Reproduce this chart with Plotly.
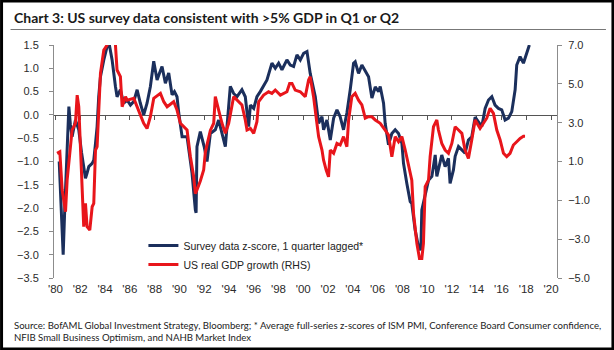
import plotly.graph_objects as go

# ---------------- data ----------------
survey_years = [1980.30, 1980.45, 1980.62, 1980.75, 1980.90, 1981.08, 1981.20, 1981.34, 1981.61, 1981.88,
                1982.10, 1982.28, 1982.42, 1982.55, 1982.69, 1982.96, 1983.09, 1983.23, 1983.36, 1983.49,
                1983.63, 1983.90, 1984.17, 1984.35, 1984.57, 1984.84, 1984.97, 1985.24, 1985.51, 1985.78,
                1986.05, 1986.32, 1986.59, 1986.85, 1987.12, 1987.39, 1987.66, 1987.93, 1988.20, 1988.40,
                1988.60, 1988.87, 1989.14, 1989.41, 1989.60, 1989.81, 1989.95, 1990.22, 1990.62, 1990.80,
                1991.02, 1991.29, 1991.35, 1991.42, 1991.69, 1992.00, 1992.23, 1992.50, 1992.90, 1993.17,
                1993.71, 1994.11, 1994.38, 1994.65, 1995.05, 1995.32, 1995.59, 1995.73, 1996.00, 1996.26,
                1996.53, 1997.07, 1997.47, 1997.74, 1998.01, 1998.28, 1998.68, 1998.95, 1999.22, 1999.49,
                1999.76, 2000.03, 2000.30, 2000.56, 2000.97, 2001.24, 2001.51, 2001.64, 2001.91, 2002.18,
                2002.45, 2002.72, 2002.98, 2003.25, 2003.52, 2003.79, 2004.06, 2004.19, 2004.46, 2004.73,
                2005.00, 2005.27, 2005.54, 2005.81, 2006.08, 2006.21, 2006.48, 2006.61, 2006.88, 2007.15,
                2007.42, 2007.69, 2007.96, 2008.09, 2008.36, 2008.63, 2008.76, 2009.03, 2009.30, 2009.49,
                2009.57, 2009.84, 2010.11, 2010.38, 2010.65, 2010.78, 2011.05, 2011.18, 2011.45, 2011.72,
                2011.85, 2012.12, 2012.26, 2012.53, 2012.80, 2013.06, 2013.33, 2013.60, 2013.87, 2014.14,
                2014.41, 2014.68, 2014.95, 2015.22, 2015.48, 2015.75, 2016.02, 2016.29, 2016.56, 2016.83,
                2017.10, 2017.23, 2017.50, 2017.77, 2017.90, 2018.04, 2018.25]
survey_z = [-1.00, -2.00, -3.00, -2.00, -0.80, 0.18, -0.20, -0.47, -0.11, -0.32,
            -0.80, -1.18, -1.36, -1.25, -1.11, -1.04, -0.97, -0.61, -0.25, 0.39,
            0.82, 1.18, 1.47, 1.50, 1.18, 0.61, 0.39, 0.54, 0.25, 0.32,
            0.21, 0.29, 0.54, 0.25, 0.00, 0.25, 0.61, 1.15, 0.75, 0.90,
            1.04, 0.68, 0.90, 0.43, 0.50, 0.39, 0.04, -0.47, -0.47, -0.82,
            -1.25, -2.04, -2.10, -0.68, -0.36, -0.68, -1.00, -0.40, -0.32, -0.11,
            -0.68, 0.61, 0.46, 0.39, 0.54, 0.39, -0.25, 0.21, 0.14, 0.39,
            0.50, 0.75, 1.11, 1.00, 1.11, 0.97, 1.18, 1.07, 1.04, 1.29,
            1.18, 1.32, 1.36, 0.89, 0.39, -0.18, -0.04, -0.32, -0.11, -0.54,
            -0.07, 0.11, -0.04, -0.32, 0.04, 0.54, 1.11, 1.14, 0.89, 1.07,
            0.93, 0.82, 0.36, 0.60, 0.50, 0.61, 0.25, -0.18, -0.64, -0.40,
            -0.32, -0.40, -0.61, -1.04, -1.47, -1.86, -1.90, -2.47, -2.83, -2.90,
            -2.04, -1.68, -1.40, -1.32, -0.86, -1.32, -1.00, -0.86, -1.11, -0.93,
            -1.47, -1.18, -0.89, -0.68, -0.75, -0.82, -0.54, -0.47, -0.05, -0.14,
            -0.25, 0.14, 0.32, 0.39, 0.21, 0.14, 0.11, -0.11, -0.07, 0.07,
            0.54, 1.07, 1.25, 1.11, 1.21, 1.32, 1.50]

gdp_years = [1980.13, 1980.35, 1980.54, 1980.81, 1980.94, 1981.21, 1981.34, 1981.61, 1981.75, 1981.88,
             1982.02, 1982.15, 1982.28, 1982.42, 1982.55, 1982.77, 1982.96, 1983.09, 1983.23, 1983.36,
             1983.49, 1983.63, 1983.90, 1984.17, 1984.40, 1984.65, 1984.84, 1984.97, 1985.24, 1985.38,
             1985.65, 1985.78, 1986.32, 1986.59, 1986.85, 1987.12, 1987.39, 1987.66, 1987.93, 1988.47,
             1988.74, 1989.01, 1989.54, 1989.81, 1990.08, 1990.62, 1990.89, 1991.16, 1991.29, 1991.42,
             1991.69, 1991.96, 1992.10, 1992.50, 1992.77, 1992.90, 1993.17, 1993.44, 1993.71, 1993.98,
             1994.38, 1994.78, 1995.05, 1995.32, 1995.46, 1995.73, 1996.00, 1996.26, 1996.40, 1996.80,
             1997.20, 1997.47, 1997.74, 1998.15, 1998.41, 1998.68, 1998.90, 1999.09, 1999.35, 1999.76,
             2000.16, 2000.43, 2000.56, 2000.83, 2001.10, 2001.24, 2001.51, 2001.64, 2001.85, 2002.04,
             2002.18, 2002.45, 2002.72, 2002.98, 2003.25, 2003.52, 2003.66, 2003.92, 2004.19, 2004.46,
             2004.73, 2005.00, 2005.27, 2005.54, 2005.81, 2006.21, 2006.61, 2006.88, 2007.15, 2007.42,
             2007.69, 2007.96, 2008.23, 2008.49, 2008.76, 2008.90, 2009.17, 2009.38, 2009.57, 2009.70,
             2009.84, 2010.11, 2010.24, 2010.51, 2010.78, 2010.91, 2011.18, 2011.45, 2011.72, 2011.99,
             2012.26, 2012.53, 2012.80, 2013.06, 2013.33, 2013.60, 2013.87, 2014.27, 2014.54, 2014.81,
             2015.08, 2015.35, 2015.62, 2015.89, 2016.16, 2016.42, 2016.69, 2016.96, 2017.23, 2017.50,
             2017.77, 2017.90]
gdp_growth = [1.42, 1.50, -0.47, -1.59, 0.04, 1.59, 2.62, 2.97, 4.42, 3.82,
              1.42, -0.47, -2.36, -1.16, -2.36, -2.53, -1.33, -1.16, 1.59, 1.76,
              3.48, 5.54, 6.74, 7.00, 7.80, 7.60, 7.00, 5.71, 5.37, 3.82,
              4.34, 4.16, 4.25, 3.82, 3.31, 2.97, 2.70, 3.31, 4.25, 4.51,
              4.08, 3.82, 4.08, 3.65, 2.97, 2.62, 1.25, 0.21, -0.65, -0.47,
              0.00, 0.56, 1.50, 2.60, 2.97, 4.34, 3.65, 2.97, 2.45, 2.97,
              4.34, 4.08, 3.91, 3.14, 2.62, 2.70, 2.45, 3.05, 4.08, 4.42,
              4.59, 4.51, 4.68, 4.42, 4.51, 4.59, 5.02, 5.02, 4.68, 4.59,
              4.34, 5.20, 5.37, 4.34, 2.97, 2.28, 1.59, 1.07, 0.56, 0.21,
              1.59, 1.42, 1.93, 1.85, 2.28, 1.76, 3.14, 4.34, 4.51, 4.16,
              3.91, 3.23, 3.31, 3.30, 3.14, 2.97, 2.62, 2.36, 1.25, 2.28,
              2.02, 2.28, 1.59, 0.90, 0.04, -1.67, -3.22, -3.99, -3.99, -3.22,
              -0.30, 0.04, 1.25, 2.79, 3.14, 2.62, 1.93, 1.59, 1.42, 1.93,
              2.79, 2.62, 2.45, 1.59, 1.16, 2.11, 3.14, 2.70, 2.97, 3.23,
              3.74, 3.48, 2.62, 2.11, 1.42, 1.25, 1.42, 1.85, 2.02, 2.19,
              2.30, 2.30]

year_ticks = list(range(1980, 2021, 2))
year_labels = ["'" + str(y)[2:] for y in year_ticks]
left_ticks = [1.5, 1.0, 0.5, 0.0, -0.5, -1.0, -1.5, -2.0, -2.5, -3.0, -3.5]
right_ticks = [7.0, 5.0, 3.0, 1.0, -1.0, -3.0, -5.0]

title_text = "Chart 3: US survey data consistent with >5% GDP in Q1 or Q2"
source_text = ("Source: BofAML Global Investment Strategy, Bloomberg; * Average full-series z-scores of ISM PMI, "
               "Conference Board Consumer confidence,<br>NFIB Small Business Optimism, and NAHB Market Index")

# ---------------- layout geometry ----------------
W, H = 614, 350
L, R, T, B = 53.5, 557, 45, 278
pw, ph = R - L, B - T


def px(x):
    return (x - L) / pw


def py(y):
    return (B - y) / ph


BLUE = "#1b2f5c"
RED = "#e8151b"
AXIS = "#8c8c8c"
TXT = "#2b2b2b"
FONT = "Liberation Sans, Arial, sans-serif"
NARROW = "Lato, Roboto, sans-serif"

fig = go.Figure()
fig.add_trace(go.Scatter(x=survey_years, y=survey_z, mode="lines", name="Survey data z-score, 1 quarter lagged*",
                         line=dict(color=BLUE, width=3), yaxis="y", xaxis="x"))
fig.add_trace(go.Scatter(x=gdp_years, y=gdp_growth, mode="lines", name="US real GDP growth (RHS)",
                         line=dict(color=RED, width=3), yaxis="y2", xaxis="x"))

xr = [1979.88, 2020.48]
fig.update_layout(
    width=W, height=H,
    margin=dict(l=L, r=W - R, t=T, b=H - B),
    paper_bgcolor="white", plot_bgcolor="white",
    font=dict(family=FONT, size=11, color=TXT),
    showlegend=True,
    legend=dict(x=px(143), y=py(231), xanchor="left", yanchor="top",
                font=dict(family=FONT, size=10.5, color="#222"),
                bgcolor="rgba(0,0,0,0)", itemwidth=30, tracegroupgap=0),
    xaxis=dict(range=xr, tickvals=year_ticks, ticktext=year_labels, showline=False, ticks="",
               showgrid=False, zeroline=False, ticklabelstandoff=2, tickfont=dict(size=11.5, color=TXT)),
    xaxis2=dict(range=xr, overlaying="x", anchor="free", position=1 - 1.5 / 5,
                side="bottom", showline=True, linecolor="#555", linewidth=1, ticks="outside", ticklen=4,
                tickcolor="#555", tickvals=year_ticks, showticklabels=False, showgrid=False, zeroline=False,
                layer="below traces"),
    yaxis=dict(range=[-3.5, 1.5], tickvals=left_ticks, tickformat=".1f", showline=True, linecolor=AXIS,
               linewidth=1, ticks="outside", ticklen=4, tickcolor=AXIS, showgrid=False, zeroline=False,
               ticklabelstandoff=8, tickfont=dict(size=11, color=TXT)),
    yaxis2=dict(range=[-5, 7], tickvals=right_ticks, tickformat=".1f", overlaying="y", side="right",
                showline=True, linecolor=AXIS, linewidth=1, ticks="outside", ticklen=4, tickcolor=AXIS,
                showgrid=False, zeroline=False, ticklabelstandoff=4, tickfont=dict(size=11, color=TXT)),
)
# invisible trace to make xaxis2 render
fig.add_trace(go.Scatter(x=[xr[0]], y=[0], xaxis="x2", yaxis="y", mode="markers",
                         marker=dict(opacity=0), showlegend=False, hoverinfo="skip"))

# title, underline, source, frame
fig.add_annotation(text="<b>" + title_text + "</b>", xref="paper", yref="paper", x=px(11), y=py(17),
                   xanchor="left", yanchor="middle", showarrow=False,
                   font=dict(family=NARROW, size=14, color="#1a1a1a"))
fig.add_shape(type="line", xref="paper", yref="paper", x0=px(10), x1=px(606), y0=py(29.5), y1=py(29.5),
              line=dict(color="#777", width=1))
fig.add_annotation(text=source_text, xref="paper", yref="paper", x=px(11), y=py(331),
                   xanchor="left", yanchor="middle", align="left", showarrow=False,
                   font=dict(family=NARROW, size=9.6, color="#222"))
fig.add_shape(type="rect", xref="paper", yref="paper", x0=px(1), x1=px(613), y0=py(1), y1=py(349),
              line=dict(color="black", width=3))

fig.write_html("out.html")
